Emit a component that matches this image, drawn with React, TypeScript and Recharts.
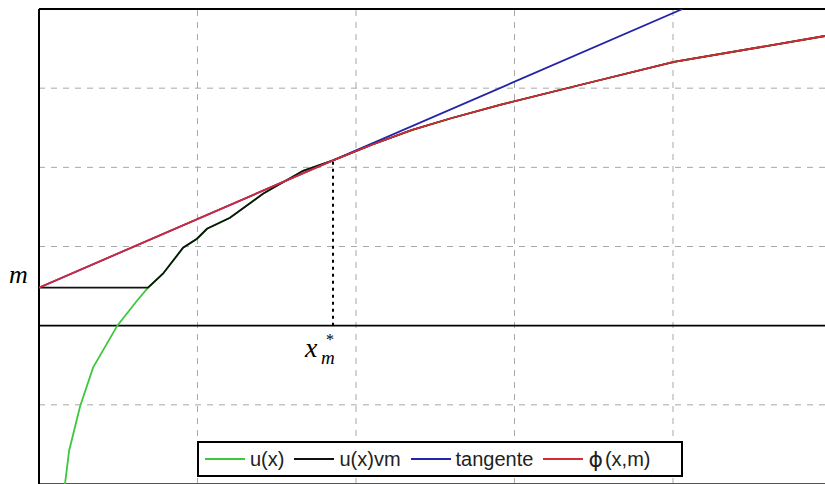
import { LineChart, Line, XAxis, YAxis, ReferenceLine, ReferenceDot, Legend } from "recharts";

// level m and tangency point x*_m
const M = 0.48;
const X_STAR = 1.855;
const Y_STAR = 2.088;

// u(x)
const U_X = [0.164, 0.19, 0.259, 0.341, 0.494, 0.618, 0.688, 0.782, 0.909, 0.997, 1.06, 1.205, 1.413, 1.666, 1.855, 2.1, 2.35, 2.6, 2.909, 3.413, 4.006, 4.959];
const U_Y = [-2.0, -1.58, -1.02, -0.53, 0.0, 0.315, 0.48, 0.656, 0.984, 1.098, 1.224, 1.363, 1.666, 1.956, 2.088, 2.285, 2.47, 2.62, 2.79, 3.04, 3.331, 3.659];

// tangent line through (0, m) and x*_m
const TAN_X = [0, 4.06];
const TAN_Y = [0.48, 4.0];

const X_GRID = [1, 2, 3, 4];
const Y_GRID = [-1, 1, 2, 3];
const X_DOMAIN = [0, 4.959];
const Y_DOMAIN = [-2, 4];

const U_DATA = U_X.map((x, i) => ({ x, y: U_Y[i] }));
const UVM_DATA = [{ x: 0, y: M }, ...U_DATA.map((p) => ({ x: p.x, y: Math.max(p.y, M) }))];
const TAN_DATA = TAN_X.map((x, i) => ({ x, y: TAN_Y[i] }));
const PHI_DATA = [{ x: 0, y: M }, ...U_DATA.filter((p) => p.x >= X_STAR)];

const GREEN = "#3cc83c";
const BLACK = "#111111";
const BLUE = "#2424a8";
const RED = "#d42a36";
const GRID = "#a8a8a8";

const LEGEND_ITEMS = [
  { label: "u(x)", color: GREEN },
  { label: "u(x)vm", color: BLACK },
  { label: "tangente", color: BLUE },
  { label: "(x,m)", color: RED, phi: true },
];

function LegendBox() {
  return (
    <div
      style={{
        boxSizing: "border-box",
        width: 486,
        height: 36,
        border: "2px solid #000",
        background: "#fff",
        display: "flex",
        alignItems: "center",
        paddingLeft: 6,
        fontFamily: "'Liberation Sans', Arial, sans-serif",
        fontSize: 20,
        color: "#222",
      }}
    >
      {LEGEND_ITEMS.map((it) => (
        <div key={it.label} style={{ display: "flex", alignItems: "center", marginRight: 10 }}>
          <span style={{ display: "inline-block", width: 40, height: 2, background: it.color, marginRight: 5 }} />
          {it.phi && <span style={{ fontFamily: "'DejaVu Sans', sans-serif", fontSize: 22, marginRight: 2 }}>ϕ</span>}
          <span>{it.label}</span>
        </div>
      ))}
    </div>
  );
}

export default function App() {
  return (
    <div style={{ position: "absolute", left: 8, top: 8, width: 817, height: 476 }}>
      <LineChart width={817} height={476} margin={{ top: 1, right: 0, left: 31, bottom: 0 }}>
        <XAxis type="number" dataKey="x" domain={X_DOMAIN} allowDataOverflow hide />
        <YAxis type="number" dataKey="y" domain={Y_DOMAIN} allowDataOverflow hide />
        {X_GRID.map((v) => (
          <ReferenceLine key={"gx" + v} x={v} stroke={GRID} strokeDasharray="6 6" />
        ))}
        {Y_GRID.map((v) => (
          <ReferenceLine key={"gy" + v} y={v} stroke={GRID} strokeDasharray="6 6" />
        ))}
        <ReferenceLine y={0} stroke="#000" strokeWidth={1.6} />
        <ReferenceLine y={4} stroke="#000" strokeWidth={2} />
        <ReferenceLine y={-2} stroke="#555" strokeWidth={2} />
        <ReferenceLine x={0} stroke="#000" strokeWidth={2} />
        <ReferenceLine
          segment={[{ x: X_STAR, y: 0 }, { x: X_STAR, y: Y_STAR }]}
          stroke="#000"
          strokeWidth={2}
          strokeDasharray="3 4"
        />
        <Line data={U_DATA} dataKey="y" type="linear" stroke={GREEN} strokeWidth={1.8} dot={false} isAnimationActive={false} />
        <Line data={UVM_DATA} dataKey="y" type="linear" stroke={BLACK} strokeWidth={1.8} dot={false} isAnimationActive={false} />
        <Line data={TAN_DATA} dataKey="y" type="linear" stroke={BLUE} strokeWidth={1.8} dot={false} isAnimationActive={false} />
        <Line data={PHI_DATA} dataKey="y" type="linear" stroke={RED} strokeWidth={1.8} dot={false} isAnimationActive={false} />
        <ReferenceDot
          x={0}
          y={M}
          r={0}
          stroke="none"
          label={{
            content: (props: any) => {
              const vb = props.viewBox || {};
              return (
                <text x={vb.x - 30} y={vb.y - 5} fontFamily="'Liberation Serif', serif" fontStyle="italic" fontSize={26} fill="#000">
                  m
                </text>
              );
            },
          }}
        />
        <ReferenceDot
          x={X_STAR}
          y={0}
          r={0}
          stroke="none"
          label={{
            content: (props: any) => {
              const vb = props.viewBox || {};
              return (
                <g fontFamily="'Liberation Serif', serif" fontStyle="italic" fill="#000">
                  <text x={vb.x - 28} y={vb.y + 31} fontSize={28}>x</text>
                  <text x={vb.x - 12} y={vb.y + 38} fontSize={19}>m</text>
                  <text x={vb.x - 7} y={vb.y + 19} fontSize={16} fontStyle="normal">*</text>
                </g>
              );
            },
          }}
        />
        <Legend
          layout="horizontal"
          verticalAlign="middle"
          align="center"
          wrapperStyle={{ left: 189, top: 433, width: 486, height: 36 }}
          content={() => <LegendBox />}
        />
      </LineChart>
    </div>
  );
}
